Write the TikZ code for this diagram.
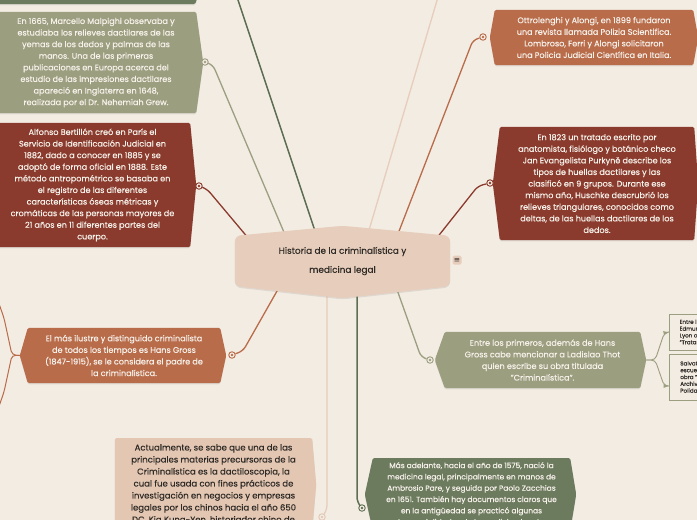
\documentclass[tikz,border=0pt]{standalone}
\usepackage{fontspec}
\setmainfont{Poppins}[UprightFeatures={FakeBold=0.35}]
\newfontfamily\symfont{DejaVu Sans}
\usetikzlibrary{positioning,calc,shadows}
\definecolor{paper}{HTML}{F3ECE3}
\definecolor{olive}{HTML}{9C9E80}
\definecolor{moss}{HTML}{6C7A5E}
\definecolor{mossline}{HTML}{5E6E52}
\definecolor{rust}{HTML}{8B3B2D}
\definecolor{clay}{HTML}{B96C4A}
\definecolor{peach}{HTML}{E7CDBB}
\definecolor{sand}{HTML}{E3C7B3}
\definecolor{ink}{HTML}{2E2A26}
\definecolor{chalk}{HTML}{F6F1EA}
\pgfdeclarelayer{paperlayer}
\pgfdeclarelayer{wires}
\pgfdeclarelayer{shapes}
\pgfsetlayers{paperlayer,wires,shapes,main}
% filled box with a pointed left and right side
\newcommand{\hexfill}[4]{%
  \begin{pgfonlayer}{shapes}
    \fill[#2,rounded corners=1.5pt,boxshadow]
      (#1.north west) -- (#1.north east) -- ([xshift=#4]#1.east) -- (#1.south east)
      -- (#1.south west) -- ([xshift=-#3]#1.west) -- cycle;
  \end{pgfonlayer}}

\begin{document}
\begin{tikzpicture}[x=1pt,y=-1pt]
 \tikzset{boxshadow/.style={drop shadow={opacity=0.18,shadow xshift=0pt,shadow yshift=-1.2pt}},
   lighttext/.style={text=chalk,align=center,inner sep=0pt,font=\fontsize{8.1}{11.6}\selectfont},
   darktext/.style={text=ink,align=center,inner sep=0pt,font=\fontsize{8.1}{11.6}\selectfont},
   leaftext/.style={text=ink,align=left,anchor=west,inner xsep=3pt,inner ysep=0pt,
     font=\fontsize{5.6}{6.8}\selectfont,draw=olive,line width=0.8pt,fill=paper},
   dotmark/.style={circle,draw=#1,fill=paper,line width=0.9pt,minimum size=6.5pt,inner sep=0pt,
     path picture={\fill[#1] (path picture bounding box.center) circle (1.3pt);}},
   wire/.style={line width=1.3pt,rounded corners=5pt}}
 \useasboundingbox (0,0) rectangle (697,520);
 \begin{pgfonlayer}{paperlayer}
  \fill[paper] (0,0) rectangle (697,520);
 \end{pgfonlayer}

 % centre
 \node[darktext,font=\fontsize{8.9}{19}\selectfont,minimum width=215pt,minimum height=50pt] (hub) at (342.5,261)
   {Historia de la criminalística y\\medicina legal};
 \begin{pgfonlayer}{shapes}
  \fill[peach,rounded corners=6pt,boxshadow] (hub.north west) -- ([yshift=10pt]hub.north) -- (hub.north east)
    -- (hub.south east) -- ([yshift=-12pt]hub.south) -- (hub.south west) -- cycle;
 \end{pgfonlayer}
 \node[fill=peach,rounded corners=1.5pt,text=ink,inner sep=1pt,minimum size=9pt,font=\symfont\fontsize{7.5}{7.5}\selectfont] (menu) at (457,260) {≡};

 % left side
 \node[lighttext,minimum width=200pt,minimum height=44pt] (top) at (95,-18) {};
 \hexfill{top}{moss}{0pt}{7pt}
 \node[lighttext,minimum width=200pt,minimum height=101pt] (malpighi) at (96,62.5)
   {En 1665, Marcello Malpighi observaba y\\estudiaba los relieves dactilares de las\\yemas de los dedos y palmas de las\\manos. Una de las primeras\\publicaciones en Europa acerca del\\estudio de las impresiones dactilares\\apareció en Inglaterra en 1648,\\realizada por el Dr. Nehemiah Grew.};
 \hexfill{malpighi}{olive}{0pt}{7pt}
 \node[lighttext,minimum width=195pt,minimum height=124pt] (bertillon) at (92.5,185)
   {Alfonso Bertillón creó en París el\\Servicio de Identificación Judicial en\\1882, dado a conocer en 1885 y se\\adoptó de forma oficial en 1888. Este\\método antropométrico se basaba en\\el registro de las diferentes\\características óseas métricas y\\cromáticas de las personas mayores de\\21 años en 11 diferentes partes del\\cuerpo.};
 \hexfill{bertillon}{rust}{0pt}{6pt}
 \node[lighttext,minimum width=192pt,minimum height=55pt] (gross) at (124,355.5)
   {El más ilustre y distinguido criminalista\\de todos los tiempos es Hans Gross\\(1847-1915), se le considera el padre de\\la criminalística.};
 \hexfill{gross}{clay}{8pt}{6pt}
 \node[darktext,anchor=north,inner ysep=6pt,minimum width=197pt,font=\fontsize{8.5}{12}\selectfont] (dacti) at (213.5,438)
   {Actualmente, se sabe que una de las\\principales materias precursoras de la\\Criminalística es la dactiloscopia, la\\cual fue usada con fines prácticos de\\investigación en negocios y empresas\\legales por los chinos hacia el año 650\\DC. Kia Kung-Yen, historiador chino de};
 \hexfill{dacti}{sand}{0pt}{4pt}

 % right side
 \node[lighttext,minimum width=198pt,minimum height=55pt] (polizia) at (594,37.5)
   {Ottrolenghi y Alongi, en 1899 fundaron\\una revista llamada Polizia Scientifica.\\Lombroso, Ferri y Alongi solicitaron\\una Policia Judicial Científica en Italia.};
 \hexfill{polizia}{clay}{5pt}{5pt}
 \node[lighttext,minimum width=194pt,minimum height=113pt] (purkyne) at (597,183.5)
   {En 1823 un tratado escrito por\\anatomista, fisiólogo y botánico checo\\Jan Evangelista Purkyně describe los\\tipos de huellas dactilares y las\\clasificó en 9 grupos. Durante ese\\mismo año, Huschke descrubrió los\\relieves triangulares, conocidos como\\deltas, de las huellas dactilares de los\\dedos.};
 \hexfill{purkyne}{rust}{7pt}{4pt}
 \node[lighttext,minimum width=195pt,minimum height=56pt] (thot) at (542.5,360)
   {Entre los primeros, además de Hans\\Gross cabe mencionar a Ladislao Thot\\quien escribe su obra titulada\\"Criminalística".};
 \hexfill{thot}{olive}{10pt}{6pt}
 \node[lighttext,anchor=north,inner ysep=4pt,minimum width=197pt,font=\fontsize{7.5}{11.3}\selectfont] (pare) at (471.5,458)
   {Más adelante, hacia el año de 1575, nació la\\medicina legal, principalmente en manos de\\Ambrosio Pare, y seguida por Paolo Zacchias\\en 1651. También hay documentos claros que\\en la antigüedad se practicó algunas\\subespecialidades de la medicina legal por};
 \hexfill{pare}{moss}{8pt}{6pt}
 \node[leaftext,minimum width=40pt,minimum height=36pt] (locard) at (669,332) {Entre l\\Edmun\\Lyon o\\"Trata};
 \node[leaftext,minimum width=40pt,minimum height=46pt] (salvat) at (669,377) {Salvat\\escuel\\obra "\\Archiv\\Polida};

 % marks
 \node[dotmark=olive] (d1) at (205,62) {};
 \node[dotmark=rust] (d2) at (199,186) {};
 \node[dotmark=clay] (d3) at (232,355) {};
 \node[dotmark=clay] (d5) at (483,37) {};
 \node[dotmark=rust] (d6) at (490,183) {};
 \node[dotmark=olive] (d7) at (430,360) {};
 \node[dotmark=sand] (d8) at (322,517) {};
 \node[dotmark=mossline] (d9) at (362,508) {};
 \coordinate (topend) at (236,-6);
 \coordinate (peachend) at (439.5,-8);
 \coordinate (grossup) at (-3,298);
 \coordinate (grossdown) at (-3,412);

 \begin{pgfonlayer}{wires}
  \draw[wire,mossline,line width=1.5pt] (topend) -- ($(hub)+(-25.5,-24)$);
  \draw[wire,peach] (peachend) -- ($(hub)+(24.5,-24)$);
  \draw[wire,olive] (d1) -- ++(8,3) -- ($(hub)+(-56.5,-24)$);
  \draw[wire,rust] (d2) -- ++(8,3) -- ($(hub)+(-93.5,-22)$);
  \draw[wire,clay] (d3) -- ++(11,-4) -- ($(hub)+(-61.5,23)$);
  \draw[wire,clay] (d5) -- ++(-10,3) -- ($(hub)+(53.5,-22)$);
  \draw[wire,rust] (d6) -- ++(-12,3) -- ($(hub)+(93.5,-22)$);
  \draw[wire,olive] (d7) -- ++(-9,-3) -- ($(hub)+(52.5,23)$);
  \draw[wire,peach] ($(hub)+(-15.5,23)$) -- (327,510) -- (d8);
  \draw[wire,mossline,line width=1.5pt] ($(hub)+(14.5,23)$) -- (357,502) -- (d9);
  \draw[wire,clay,line width=1pt,rounded corners=4pt] ([xshift=-8pt]gross.west) -- (12,355) -- (4,318) -- (grossup);
  \draw[wire,clay,line width=1pt,rounded corners=4pt] ([xshift=-8pt]gross.west) -- (12,355) -- (4,392) -- (grossdown);
  \draw[wire,olive,line width=0.9pt,rounded corners=4pt,-latex] ([xshift=6pt]thot.east) -- ++(9,0) -- ++(9,-27) -- (locard.west);
  \draw[wire,olive,line width=0.9pt,rounded corners=4pt,-latex] ([xshift=6pt]thot.east) -- ++(9,0) -- ++(9,26) -- ([yshift=-9pt]salvat.west);
 \end{pgfonlayer}
\end{tikzpicture}
\end{document}
